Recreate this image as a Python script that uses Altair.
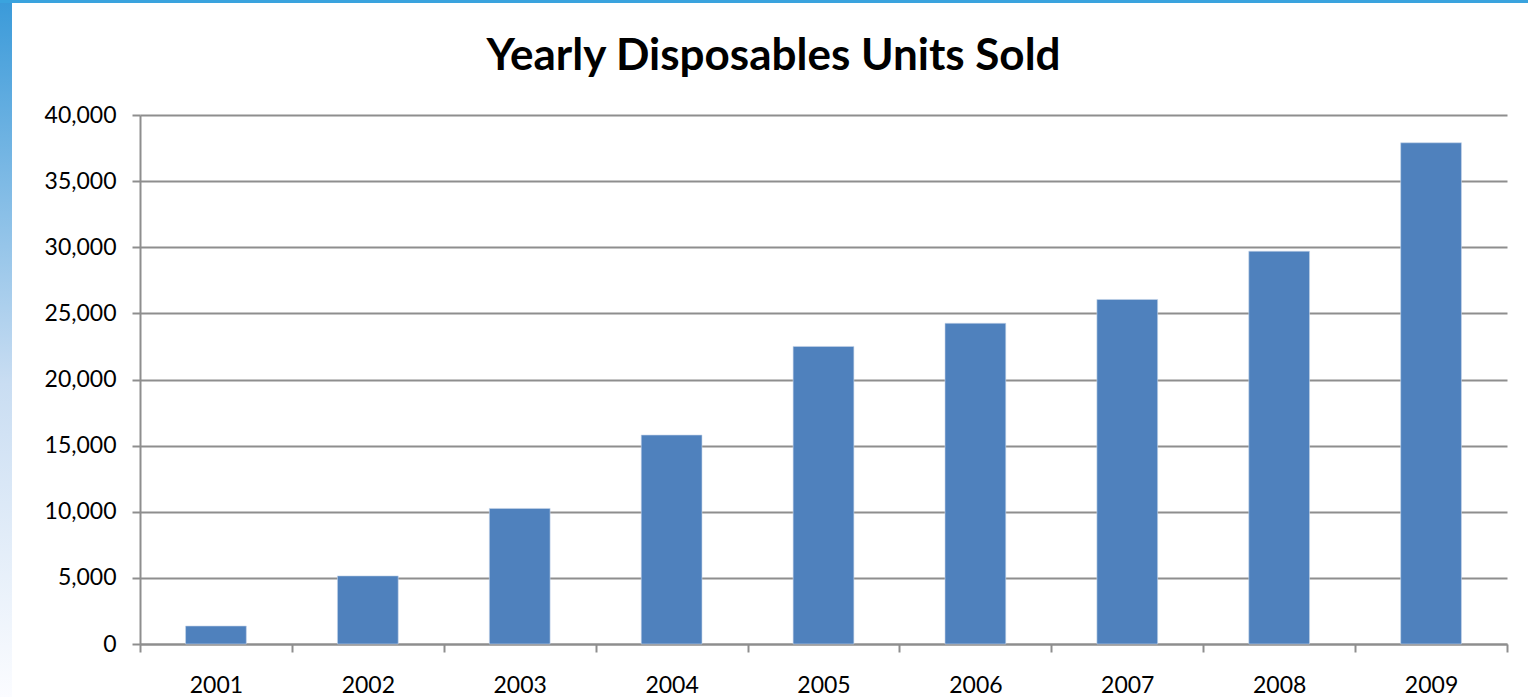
import altair as alt
import pandas as pd

years = ["2001", "2002", "2003", "2004", "2005", "2006", "2007", "2008", "2009"]
units = [1360, 5150, 10250, 15800, 22500, 24250, 26050, 29700, 37900]
y_ticks = [0, 5000, 10000, 15000, 20000, 25000, 30000, 35000, 40000]

df = pd.DataFrame({"year": years, "units": units})
deco = pd.DataFrame({"k": [0]})

FONT = "Lato"
GRID = "#8e8e8e"

bars = alt.Chart(df).mark_bar(
    color="#4F81BD", stroke="#c6d5ea", strokeWidth=0.6,
    width=alt.RelativeBandSize(0.4)
).encode(
    x=alt.X("year:N", title=None, sort=years,
            scale=alt.Scale(paddingInner=0, paddingOuter=0),
            axis=alt.Axis(labelAngle=0, tickBand="extent", ticks=True, tickSize=8,
                          tickColor=GRID, tickWidth=2, domainColor=GRID, domainWidth=2,
                          labelFont=FONT, labelFontSize=23, labelColor="#000000",
                          labelPadding=22, grid=False)),
    y=alt.Y("units:Q", title=None,
            scale=alt.Scale(domain=[0, 40000], nice=False),
            axis=alt.Axis(values=y_ticks, format=",.0f", tickSize=8, tickColor=GRID, tickWidth=2,
                          domainColor=GRID, domainWidth=2, grid=True, gridColor=GRID,
                          gridWidth=2, labelFont=FONT, labelFontSize=23, labelColor="#000000",
                          labelPadding=16)),
)

strip = alt.Chart(deco).mark_rect(
    color=alt.Gradient(
        gradient="linear", x1=0, x2=0, y1=0, y2=1,
        stops=[alt.GradientStop(color="#3a9ad9", offset=0),
               alt.GradientStop(color="#c9ddf2", offset=0.55),
               alt.GradientStop(color="#fbfcff", offset=1)],
    )
).encode(x=alt.value(-140), x2=alt.value(-128), y=alt.value(-115), y2=alt.value(582))

topline = alt.Chart(deco).mark_rect(color="#3aa3de").encode(
    x=alt.value(-140), x2=alt.value(1388), y=alt.value(-115), y2=alt.value(-112)
)

chart = alt.layer(bars, strip, topline).properties(
    width=1367,
    height=529,
    title=alt.TitleParams("Yearly Disposables Units Sold", font=FONT, fontSize=44,
                          fontWeight="bold", color="#000000", anchor="middle",
                          frame="group", offset=0, dy=79, dx=-50),
    autosize=alt.AutoSizeParams(type="none"),
    padding={"left": 140, "top": 115, "right": 21, "bottom": 53},
).configure(background="white").configure_view(stroke=None)

chart.save("out.html", embed_options={"renderer": "svg", "actions": False})
